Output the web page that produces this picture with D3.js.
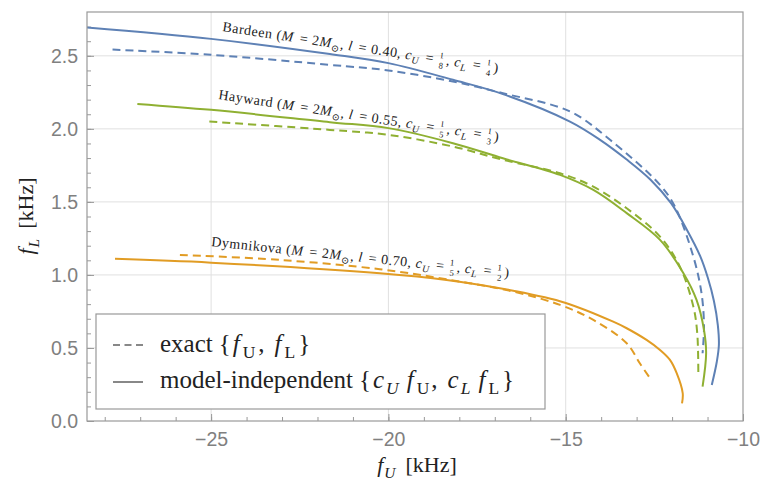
<!DOCTYPE html>
<html>
<head>
<meta charset="utf-8">
<script src="https://cdn.jsdelivr.net/npm/d3@7"></script>
<style>
    body { margin: 0; background: #fff; }
    text { font-family: "Liberation Serif", "DejaVu Serif", serif; fill: #222; }
    .tick text { font-family: "Liberation Sans", Arial, sans-serif; fill: #808080; font-size: 19.5px; }
</style>
</head>
<body>
<svg id="chart" width="766" height="480"></svg>
<script>
// tick values
var xTicks = [-25, -20, -15, -10],
    yTicks = [0, 0.5, 1, 1.5, 2, 2.5];

// Bardeen (l = 0.40)
var bardeenModelU = [-28.5, -25, -21.65, -20.0, -18.18, -16.77, -14.88, -14.03, -13.28, -12.6, -12.03, -11.58, -11.21, -10.99, -10.82, -10.71, -10.68, -10.74, -10.88],
    bardeenModelL = [2.694, 2.616, 2.512, 2.45, 2.336, 2.238, 2.05, 1.925, 1.79, 1.65, 1.491, 1.308, 1.13, 0.979, 0.822, 0.657, 0.52, 0.404, 0.247],
    bardeenExactU = [-27.78, -25, -21.65, -20.0, -18.18, -16.77, -14.88, -13.75, -12.34, -11.92, -11.4, -11.17, -11.1, -11.14],
    bardeenExactL = [2.543, 2.507, 2.438, 2.40, 2.324, 2.244, 2.119, 1.925, 1.616, 1.468, 1.125, 0.875, 0.646, 0.464];

// Hayward (l = 0.55)
var haywardModelU = [-27.08, -25, -21.65, -20.0, -18.18, -16.77, -15.16, -14.22, -13.28, -12.34, -11.68, -11.31, -11.1, -11.04, -11.14],
    haywardModelL = [2.171, 2.13, 2.046, 2.005, 1.902, 1.799, 1.685, 1.582, 1.423, 1.24, 1.012, 0.829, 0.623, 0.464, 0.235],
    haywardExactU = [-25.05, -21.65, -20.0, -18.18, -16.77, -15.16, -14.22, -13.28, -12.34, -11.78, -11.4, -11.29, -11.26],
    haywardExactL = [2.05, 1.993, 1.959, 1.879, 1.788, 1.696, 1.604, 1.456, 1.262, 1.057, 0.783, 0.6, 0.327];

// Dymnikova (l = 0.70)
var dymnikovaModelU = [-27.71, -25, -20.24, -18.36, -16.48, -15.02, -13.66, -13.28, -12.72, -12.34, -12.06, -11.87, -11.7, -11.72],
    dymnikovaModelL = [1.11, 1.084, 1.012, 0.966, 0.892, 0.81, 0.68, 0.635, 0.555, 0.486, 0.418, 0.327, 0.19, 0.121],
    dymnikovaExactU = [-25.88, -23.06, -20.24, -18.36, -16.48, -15.16, -14.22, -13.28, -12.91, -12.62],
    dymnikovaExactL = [1.137, 1.103, 1.039, 0.97, 0.886, 0.795, 0.692, 0.532, 0.395, 0.292];

var blue = "#5e81b5", orange = "#e19c24", green = "#8fb032";

var plotLeft = 87, plotRight = 743, plotTop = 12, plotBottom = 421;

var svg = d3.select("#chart");

var x = d3.scaleLinear().domain([-28.5, -10]).range([plotLeft, plotRight]),
    y = d3.scaleLinear().domain([0, 2.8]).range([plotBottom, plotTop]);

// grid
svg.append("g").selectAll("line")
    .data(xTicks.filter(function(d) { return d > -28.5 && d < -10; }))
    .enter().append("line")
    .attr("x1", function(d) { return x(d); }).attr("x2", function(d) { return x(d); })
    .attr("y1", plotTop).attr("y2", plotBottom)
    .attr("stroke", "#e0e0e0").attr("stroke-width", 1);

svg.append("g").selectAll("line")
    .data(yTicks.filter(function(d) { return d > 0; }))
    .enter().append("line")
    .attr("y1", function(d) { return y(d); }).attr("y2", function(d) { return y(d); })
    .attr("x1", plotLeft).attr("x2", plotRight)
    .attr("stroke", "#e0e0e0").attr("stroke-width", 1);

// axes (ticks point inwards)
function styleAxis(g) {
    g.select(".domain").remove();
    g.selectAll(".tick line").attr("stroke", "#999").attr("stroke-width", 1);
}

svg.append("g").attr("transform", "translate(0," + plotBottom + ")")
    .call(d3.axisBottom(x).tickValues(d3.range(-28, -9, 1)).tickSize(-4).tickFormat(""))
    .call(styleAxis);
svg.append("g").attr("transform", "translate(0," + plotBottom + ")")
    .call(d3.axisBottom(x).tickValues(xTicks).tickSize(-7).tickPadding(11).tickFormat(d3.format("d")))
    .call(styleAxis);

svg.append("g").attr("transform", "translate(" + plotLeft + ",0)")
    .call(d3.axisLeft(y).tickValues(d3.range(0, 28).map(function(i) { return i / 10; })).tickSize(-4).tickFormat(""))
    .call(styleAxis);
svg.append("g").attr("transform", "translate(" + plotLeft + ",0)")
    .call(d3.axisLeft(y).tickValues(yTicks).tickSize(-7).tickPadding(9).tickFormat(d3.format(".1f")))
    .call(styleAxis);

svg.selectAll(".tick text").attr("font-family", null).attr("font-size", null);

// curves
svg.append("clipPath").attr("id", "plotclip")
    .append("rect").attr("x", plotLeft).attr("y", plotTop)
    .attr("width", plotRight - plotLeft).attr("height", plotBottom - plotTop);

var line = d3.line()
    .x(function(d) { return x(d[0]); })
    .y(function(d) { return y(d[1]); })
    .curve(d3.curveCatmullRom.alpha(0.5));

var curves = [
    { u: bardeenExactU, l: bardeenExactL, color: blue, dashed: true },
    { u: bardeenModelU, l: bardeenModelL, color: blue, dashed: false },
    { u: haywardExactU, l: haywardExactL, color: green, dashed: true },
    { u: haywardModelU, l: haywardModelL, color: green, dashed: false },
    { u: dymnikovaExactU, l: dymnikovaExactL, color: orange, dashed: true },
    { u: dymnikovaModelU, l: dymnikovaModelL, color: orange, dashed: false }
];

svg.append("g").attr("clip-path", "url(#plotclip)")
    .selectAll("path")
    .data(curves)
    .enter().append("path")
    .attr("d", function(c) { return line(d3.zip(c.u, c.l)); })
    .attr("fill", "none")
    .attr("stroke", function(c) { return c.color; })
    .attr("stroke-width", 2)
    .attr("stroke-dasharray", function(c) { return c.dashed ? "8,5" : null; });

// frame
svg.append("rect")
    .attr("x", plotLeft).attr("y", plotTop)
    .attr("width", plotRight - plotLeft).attr("height", plotBottom - plotTop)
    .attr("fill", "none").attr("stroke", "#999").attr("stroke-width", 1.2);

// rich text: "" roman, "i" italic, "s" sub, "is" italic sub, "f" fraction "a/b"
// optional third element: extra space before the part
function rich(text, parts, fs) {
    var cur = 0;
    parts.forEach(function(p) {
        var t = p[0], st = p[1], gap = p[2] || 0;
        if (st === "f") {
            var nd = t.split("/"), small = fs * 0.62;
            text.append("tspan").text(nd[0]).attr("font-size", small)
                .attr("dx", gap + 1).attr("dy", -fs * 0.42 - cur);
            text.append("tspan").text(nd[1]).attr("font-size", small)
                .attr("dx", -small * 0.5).attr("dy", fs * 0.74);
            cur = fs * 0.32;
            return;
        }
        var target = st.indexOf("s") >= 0 ? fs * 0.25 : 0;
        var ts = text.append("tspan").text(t).attr("dy", target - cur);
        if (gap) ts.attr("dx", gap);
        cur = target;
        if (st.indexOf("i") >= 0) ts.attr("font-style", "italic");
        if (st.indexOf("s") >= 0) ts.attr("font-size", fs * 0.7);
    });
    if (cur !== 0) text.append("tspan").text("\u200b").attr("dy", -cur);
}

// curve labels
var labels = [
    { x: 222, y: 31, a: 8.6, name: "Bardeen", l: "0.40", cu: "1/8", cl: "1/4" },
    { x: 218, y: 99, a: 8.6, name: "Hayward", l: "0.55", cu: "1/5", cl: "1/3" },
    { x: 211, y: 246, a: 6.0, name: "Dymnikova", l: "0.70", cu: "1/5", cl: "1/2" }
];

labels.forEach(function(lb) {
    var t = svg.append("text")
        .attr("transform", "translate(" + lb.x + "," + lb.y + ") rotate(" + lb.a + ")")
        .attr("font-size", 14)
        .attr("letter-spacing", 0.55);
    rich(t, [
        [lb.name + " (", ""], ["M", "i"], [" = 2", "", 2], ["M", "i"], ["\u2299", "s"], [",", ""],
        ["l", "i", 4], [" = " + lb.l + ",", "", 2], ["c", "i", 4], ["U", "is"], [" = ", "", 2], [lb.cu, "f"],
        [",", "", 2], ["c", "i", 4], ["L", "is"], [" = ", "", 2], [lb.cl, "f"], [")", "", 2]
    ], 14);
});

// legend
svg.append("rect")
    .attr("x", 96).attr("y", 314).attr("width", 449).attr("height", 95)
    .attr("fill", "#fff").attr("stroke", "#999").attr("stroke-width", 1.2);

svg.append("line").attr("x1", 113).attr("x2", 143).attr("y1", 345).attr("y2", 345)
    .attr("stroke", "#888").attr("stroke-width", 2).attr("stroke-dasharray", "7,4.5");
svg.append("line").attr("x1", 113).attr("x2", 143).attr("y1", 382).attr("y2", 382)
    .attr("stroke", "#888").attr("stroke-width", 2);

var lg1 = svg.append("text").attr("x", 160).attr("y", 352).attr("font-size", 25);
rich(lg1, [["exact", ""], ["{", "", 6], ["f", "i", 2], ["U", "s", 3], [",", "", 3],
    ["f", "i", 10], ["L", "s", 3], ["}", "", 3]], 25);

var lg2 = svg.append("text").attr("x", 160).attr("y", 388).attr("font-size", 25);
rich(lg2, [["model-independent", ""], ["{", "", 6], ["c", "i", 2], ["U", "is", 2], ["f", "i", 8], ["U", "s", 3],
    [",", "", 2], ["c", "i", 10], ["L", "is", 2], ["f", "i", 8], ["L", "s", 3], ["}", "", 3]], 25);

// axis titles
var xt = svg.append("text").attr("x", 417).attr("y", 472).attr("text-anchor", "middle").attr("font-size", 22);
rich(xt, [["f", "i"], ["U", "is", 1], ["[kHz]", "", 10]], 22);

var yt = svg.append("text").attr("transform", "translate(33,216) rotate(-90)")
    .attr("text-anchor", "middle").attr("font-size", 22);
rich(yt, [["f", "i"], ["L", "is", 1], ["[kHz]", "", 10]], 22);
</script>
</body>
</html>
